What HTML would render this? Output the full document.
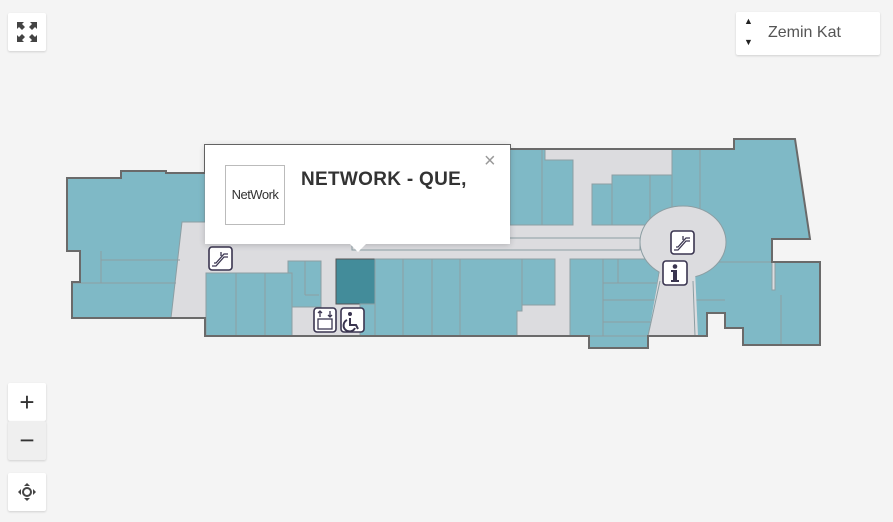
<!DOCTYPE html>
<html><head><meta charset="utf-8"><style>
body{margin:0;width:893px;height:522px;background:#f4f4f4;overflow:hidden;position:relative;font-family:"Liberation Sans",sans-serif}
.btn{position:absolute;background:#fff;box-shadow:0 1px 2px rgba(0,0,0,.15);border-radius:2px}
</style></head><body>
<svg width="893" height="522" style="position:absolute;left:0;top:0">
<g stroke="#8c9ea3" stroke-width="1">
<polygon points="67,178 121,178 121,171 166,171 166,173 205,173 205,145 510,145 510,149 734,149 734,139 795,139 810,239 772,239 772,262 820,262 820,345 743,345 743,328 725,328 725,313 707,313 707,336 648,336 648,348 589,348 589,336 205,336 205,318 72,318 72,282 80,282 80,251 67,251" fill="#dcdcdf" stroke="none"/>
<polygon points="67,178 121,178 121,171 166,171 166,173 205,173 205,222 182,222 171,318 72,318 72,282 80,282 80,251 67,251" fill="#7fb9c6"/>
<line x1="101" y1="251" x2="101" y2="283"/><line x1="101" y1="260" x2="180" y2="260"/><line x1="72" y1="283" x2="176" y2="283"/>
<rect x="510" y="149" width="32" height="76" fill="#7fb9c6"/>
<polygon points="542,149 545,149 545,160 573,160 573,225 542,225" fill="#7fb9c6"/>
<rect x="592" y="184" width="20" height="41" fill="#7fb9c6"/>
<rect x="612" y="175" width="38" height="50" fill="#7fb9c6"/>
<rect x="650" y="175" width="22" height="50" fill="#7fb9c6"/>
<rect x="672" y="149" width="28" height="60" fill="#7fb9c6"/>
<polygon points="700,149 734,149 734,139 795,139 810,239 772,239 772,262 700,262" fill="#7fb9c6"/>
<rect x="352" y="238" width="288" height="12" fill="#dcdcdf"/>
<rect x="206" y="273" width="30" height="63" fill="#7fb9c6"/>
<rect x="236" y="273" width="29" height="63" fill="#7fb9c6"/>
<rect x="265" y="273" width="27" height="63" fill="#7fb9c6"/>
<polygon points="288,261 321,261 321,307 292,307 292,273 288,273" fill="#7fb9c6"/>
<line x1="305" y1="261" x2="305" y2="295"/><line x1="305" y1="295" x2="319" y2="295"/>
<rect x="336" y="259" width="39" height="45" fill="#438c9a" stroke="#555"/>
<rect x="360" y="304" width="15" height="32" fill="#7fb9c6"/>
<rect x="375" y="259" width="28" height="77" fill="#7fb9c6"/>
<rect x="403" y="259" width="29" height="77" fill="#7fb9c6"/>
<rect x="432" y="259" width="28" height="77" fill="#7fb9c6"/>
<polygon points="460,259 522,259 522,311 517,311 517,336 460,336" fill="#7fb9c6"/>
<rect x="522" y="259" width="33" height="46" fill="#7fb9c6"/>
<rect x="570" y="259" width="33" height="77" fill="#7fb9c6"/>
<polygon points="603,259 661,259 650,336 603,336" fill="#7fb9c6"/>
<line x1="618" y1="259" x2="618" y2="283"/><line x1="603" y1="283" x2="658" y2="283"/>
<line x1="603" y1="300" x2="655" y2="300"/><line x1="603" y1="322" x2="652" y2="322"/>
<rect x="589" y="336" width="59" height="12" fill="#7fb9c6"/>
<polygon points="695,262 772,262 772,290 775,290 775,262 820,262 820,345 743,345 743,328 725,328 725,313 707,313 707,336 648,336 660,283 695,262" fill="#7fb9c6"/>
<line x1="690" y1="300" x2="725" y2="300"/><line x1="781" y1="295" x2="781" y2="345"/>
<ellipse cx="683" cy="242" rx="43" ry="36" fill="#dcdcdf"/>
<polygon points="660,270 695,270 698,336 648,336" fill="#dcdcdf" stroke="none"/>
<line x1="660" y1="281" x2="648" y2="336"/><line x1="693" y1="281" x2="695" y2="336"/>
<polygon points="67,178 121,178 121,171 166,171 166,173 205,173 205,145 510,145 510,149 734,149 734,139 795,139 810,239 772,239 772,262 820,262 820,345 743,345 743,328 725,328 725,313 707,313 707,336 648,336 648,348 589,348 589,336 205,336 205,318 72,318 72,282 80,282 80,251 67,251" fill="none" stroke="#6a6a6a" stroke-width="2"/>
</g>
<g fill="#fff" stroke="#3a3550" stroke-width="1.6">
<rect x="209" y="247" width="23" height="23" rx="3"/>
<rect x="671" y="231" width="23" height="23" rx="3"/>
<rect x="663" y="261" width="24" height="24" rx="3"/>
<rect x="314" y="308" width="22" height="24" rx="3"/>
<rect x="341" y="308" width="23" height="24" rx="3"/>
</g>
<g fill="none" stroke="#3a3550" stroke-width="1.3">
<path d="M212,266 l4,0 l8,-9 l4,0 M214,263 l2,0 l8,-9 l4,0 M221,252 v4"/>
<path d="M674,250 l4,0 l8,-9 l4,0 M676,247 l2,0 l8,-9 l4,0 M683,236 v4"/>
<rect x="318" y="319" width="14" height="10"/>
<path d="M320,317 v-6 M318,313 l2,-2 l2,2 M330,311 v6 M328,315 l2,2 l2,-2"/>
<path d="M350,318 v7 h6 l2,4 M347,320 a6,6 0 1 0 8,8" stroke-width="2"/>
</g>
<circle cx="350" cy="314" r="2" fill="#3a3550"/>
<g fill="#3a3550"><circle cx="675" cy="266.5" r="2.3"/><path d="M671,270 h6 v10 h2 v2 h-8 v-2 h2 v-8 h-2z"/></g>
</svg>

<div style="position:absolute;left:205px;top:145px;width:305px;height:99px;background:#fff;box-shadow:0 1px 6px rgba(0,0,0,.2)">
 <div style="position:absolute;left:20px;top:20px;width:58px;height:58px;border:1px solid #bbb;font-size:13px;color:#333;text-align:center;line-height:58px;letter-spacing:-0.5px">NetWork</div>
 <div style="position:absolute;left:96px;top:24px;font-size:19px;font-weight:bold;color:#333;letter-spacing:0.3px">NETWORK - QUE,</div>
 <div style="position:absolute;left:279px;top:5px;font-size:20px;color:#999">×</div>
</div>
<div style="position:absolute;left:350px;top:244px;width:0;height:0;border-left:8px solid transparent;border-right:8px solid transparent;border-top:8px solid #fff"></div>

<div class="btn" style="left:8px;top:13px;width:38px;height:38px">
<svg width="38" height="38"><g fill="#444"><path d="M9,9 h7 l-2,2 l3,3 l-3,3 l-3,-3 l-2,2z"/><path d="M29,9 h-7 l2,2 l-3,3 l3,3 l3,-3 l2,2z"/><path d="M9,29 h7 l-2,-2 l3,-3 l-3,-3 l-3,3 l-2,-2z"/><path d="M29,29 h-7 l2,-2 l-3,-3 l3,-3 l3,3 l2,-2z"/></g></svg></div>
<div class="btn" style="left:736px;top:12px;width:144px;height:43px">
 <div style="position:absolute;left:8px;top:4px;font-size:9px;color:#222">▲</div>
 <div style="position:absolute;left:8px;top:25px;font-size:9px;color:#222">▼</div>
 <div style="position:absolute;left:32px;top:12px;font-size:16px;color:#555">Zemin Kat</div>
</div>
<div class="btn" style="left:8px;top:383px;width:38px;height:38px;text-align:center;font-size:26px;line-height:38px;color:#333">+</div>
<div class="btn" style="left:8px;top:421px;width:38px;height:39px;background:#efefef;text-align:center;font-size:26px;line-height:38px;color:#333">−</div>
<div class="btn" style="left:8px;top:473px;width:38px;height:38px">
<svg width="38" height="38"><circle cx="19" cy="19" r="4" fill="none" stroke="#444" stroke-width="2"/><g fill="#444"><path d="M19,10 l-3,3 h6z"/><path d="M19,28 l-3,-3 h6z"/><path d="M10,19 l3,-3 v6z"/><path d="M28,19 l-3,-3 v6z"/></g></svg></div>
</body></html>
